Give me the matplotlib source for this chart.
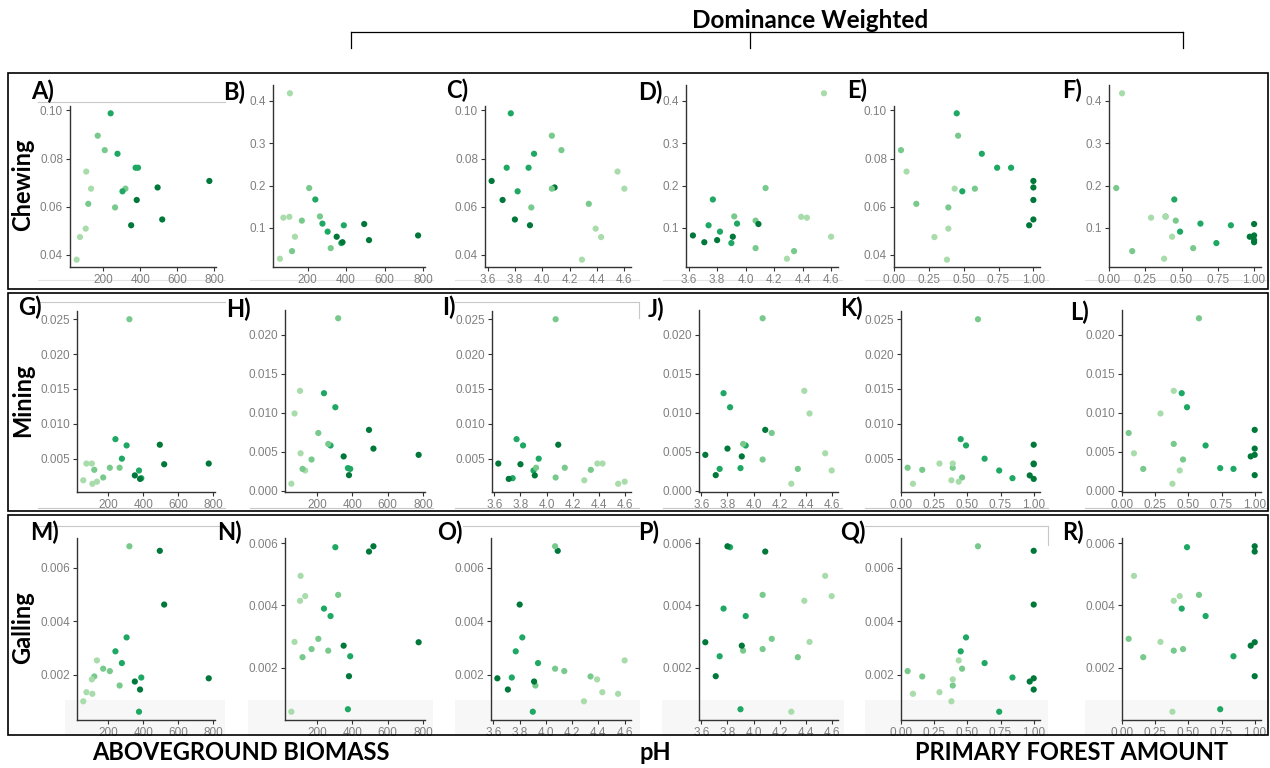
import matplotlib
matplotlib.use("Agg")
import matplotlib.pyplot as plt
from matplotlib.patches import Rectangle
from matplotlib.lines import Line2D

# 20 sites, same order in every array
biomass = [240, 170, 208, 277, 108, 375, 388, 774, 494, 134,
           320, 304, 119, 381, 264, 105, 351, 519, 74, 56]
ph = [3.77, 4.07, 4.14, 3.94, 4.55, 3.90, 3.74, 3.63, 4.09, 4.60,
      4.07, 3.82, 4.34, 3.71, 3.92, 4.39, 3.91, 3.80, 4.43, 4.29]
forest = [0.45, 0.46, 0.05, 0.63, 0.09, 0.74, 0.84, 1.00, 1.00, 0.435,
          0.58, 0.49, 0.16, 1.00, 0.39, 0.39, 0.97, 1.00, 0.29, 0.38]

chewing = [0.0988, 0.0895, 0.0835, 0.0820, 0.0746, 0.0762, 0.0762, 0.0707, 0.0680, 0.0675,
           0.0675, 0.0664, 0.0612, 0.0628, 0.0597, 0.0509, 0.0523, 0.0547, 0.0474, 0.0380]
chewing_dw = [0.167, 0.117, 0.194, 0.110, 0.418, 0.064, 0.106, 0.082, 0.109, 0.079,
              0.052, 0.091, 0.045, 0.066, 0.127, 0.126, 0.079, 0.071, 0.124, 0.027]
mining = [0.0078, 0.0023, 0.0037, 0.0050, 0.0014, 0.0033, 0.0022, 0.0043, 0.0070, 0.0017,
          0.0250, 0.0069, 0.0034, 0.0021, 0.0037, 0.0043, 0.0026, 0.0042, 0.0043, 0.0019]
mining_dw = [0.0125, 0.0040, 0.0074, 0.0058, 0.0048, 0.0029, 0.0028, 0.0046, 0.0078, 0.0026,
             0.0221, 0.0107, 0.0028, 0.0020, 0.0060, 0.0128, 0.0044, 0.0054, 0.0099, 0.0009]
galling = [0.00287, 0.00222, 0.00213, 0.00243, 0.00128, 0.00061, 0.00189, 0.00186, 0.00663, 0.00253,
           0.00680, 0.00339, 0.00193, 0.00144, 0.00159, 0.00182, 0.00174, 0.00462, 0.00134, 0.00100]
galling_dw = [0.00390, 0.00260, 0.00293, 0.00366, 0.00495, 0.00067, 0.00237, 0.00282, 0.00573, 0.00430,
              0.00434, 0.00587, 0.00234, 0.00173, 0.00255, 0.00415, 0.00271, 0.00590, 0.00283, 0.00059]

# colour class of each site (0 = lightest ... 3 = darkest)
group = [2, 1, 1, 2, 0, 2, 2, 3, 3, 0, 1, 2, 1, 3, 1, 0, 3, 3, 0, 0]
palette = ['#a8dcab', '#78c98c', '#1ea863', '#00783a']

row_names = ['Chewing', 'Mining', 'Galling']
x_names = ['ABOVEGROUND BIOMASS', 'pH', 'PRIMARY FOREST AMOUNT']
letters = 'ABCDEFGHIJKLMNOPQR'

x_ticks = [([200, 400, 600, 800], '{:.0f}'),
           ([3.6, 3.8, 4.0, 4.2, 4.4, 4.6], '{:.1f}'),
           ([0, 0.25, 0.5, 0.75, 1.0], '{:.2f}')]
y_ticks = [[([0.04, 0.06, 0.08, 0.10], '{:.2f}'), ([0.1, 0.2, 0.3, 0.4], '{:.1f}')],
           [([0.005, 0.010, 0.015, 0.020, 0.025], '{:.3f}'), ([0, 0.005, 0.010, 0.015, 0.020], '{:.3f}')],
           [([0.002, 0.004, 0.006], '{:.3f}'), ([0.002, 0.004, 0.006], '{:.3f}')]]

W, H = 1270, 768
fig = plt.figure(figsize=(W / 100, H / 100), dpi=100)
LB = ['Lato', 'DejaVu Sans']


def fx(x):
    return x / W


def fy(y):
    return 1 - y / H


def fig_line(x0, y0, x1, y1, color='black', lw=1.0, z=5):
    fig.add_artist(Line2D([fx(x0), fx(x1)], [fy(y0), fy(y1)], transform=fig.transFigure,
                          color=color, lw=lw, zorder=z))


def fig_rect(x0, y0, x1, y1, z, **kw):
    fig.add_artist(Rectangle((fx(x0), fy(y1)), fx(x1) - fx(x0), fy(y0) - fy(y1),
                             transform=fig.transFigure, zorder=z, **kw))


# pasted-image leftovers: faint bands and lines
for x0, x1 in [(65, 225), (248, 433), (455, 640), (662, 844), (865, 1048), (1085, 1268)]:
    fig_rect(x0, 700, x1, 735, -1, fc='#f7f7f7', ec='none')
for x0, x1 in [(38, 225), (250, 433), (455, 639), (663, 842), (865, 1048), (1085, 1268)]:
    fig_line(x0, 280, x1, 280, color='#e4e4e4', lw=0.8, z=-1)
    fig_line(x0, 508, x1, 508, color='#c8c8c8', lw=0.8, z=-1)
for x0, x1, y in [(38, 225, 102), (40, 225, 302), (455, 639, 302),
                  (38, 225, 526), (463, 639, 526), (865, 1048, 526)]:
    fig_line(x0, y, x1, y, color='#c8c8c8', lw=0.8, z=-1)
fig_line(639, 302, 639, 318, color='#c8c8c8', lw=0.8, z=-1)
fig_line(1048, 526, 1048, 545, color='#c8c8c8', lw=0.8, z=-1)

# row frames
for top, bot in [(73, 289), (293, 511), (515, 735)]:
    fig_rect(8, top, 1268, bot, 5, fill=False, ec='black', lw=1.2)

# panel boxes in pixels: (left, top, right, bottom)
lefts = [[70, 273, 485, 686, 894, 1109],
         [77, 285, 492, 699, 901, 1122],
         [77, 285, 491, 699, 901, 1122]]
rights = [[216, 425, 631, 838, 1040, 1261],
          [215, 425, 631, 838, 1040, 1261],
          [215, 425, 631, 838, 1040, 1261]]
tops = [[106, 85, 106, 85, 106, 85],
        [311, 310, 311, 310, 311, 310],
        [538, 538, 538, 538, 538, 538]]
bottoms = [267, 492, 720]
letter_pos = [[(31, 91), (223, 92), (446, 90), (638, 92), (847, 90), (1062, 90)],
              [(18, 307), (226, 309), (442, 307), (648, 309), (840, 308), (1070, 312)],
              [(30, 532), (217, 532), (437, 532), (638, 532), (840, 532), (1062, 532)]]

xs = [biomass, ph, forest]
ys = [[chewing, chewing_dw], [mining, mining_dw], [galling, galling_dw]]
colors = [palette[g] for g in group]

k = 0
for r in range(3):
    for c in range(6):
        xi, kind = c // 2, c % 2
        l, t, rr, b = lefts[r][c], tops[r][c], rights[r][c], bottoms[r]
        ax = fig.add_axes([fx(l), fy(b), fx(rr) - fx(l), fy(t) - fy(b)])
        ax.set_facecolor('none')
        ax.scatter(xs[xi], ys[r][kind], s=20, c=colors, linewidths=0, zorder=3)
        ax.margins(0.05)
        for side in ['top', 'right']:
            ax.spines[side].set_visible(False)
        for side in ['left', 'bottom']:
            ax.spines[side].set_color('#333333')
            ax.spines[side].set_linewidth(1.0)
        tv, fmt = x_ticks[xi]
        ax.set_xticks(tv)
        ax.set_xticklabels([fmt.format(v) for v in tv])
        tv, fmt = y_ticks[r][kind]
        ax.set_yticks(tv)
        ax.set_yticklabels([fmt.format(v) for v in tv])
        ax.tick_params(length=3, width=0.8, color='#333333', labelcolor='#808080',
                       labelsize=8.5, pad=2)
        for lab in ax.get_xticklabels() + ax.get_yticklabels():
            lab.set_family(['Liberation Sans', 'DejaVu Sans'])
        lx, ly = letter_pos[r][c]
        fig.text(fx(lx), fy(ly), letters[k] + ')', fontsize=17, fontweight='bold',
                 family=LB, ha='left', va='center', zorder=6)
        k += 1

# row labels
for name, yc in zip(row_names, [185, 400, 628]):
    fig.text(fx(23), fy(yc), name, rotation=90, fontsize=17, fontweight='bold',
             family=LB, ha='center', va='center', zorder=6)

# bottom labels
for name, xc in zip(x_names, [241, 655, 1072]):
    fig.text(fx(xc), fy(753), name, fontsize=17, fontweight='bold',
             family=LB, ha='center', va='center')

# top bracket
fig.text(fx(810), fy(20), 'Dominance Weighted', fontsize=17.5, fontweight='bold',
         family=LB, ha='center', va='center')
fig_line(351, 32, 1183, 32, lw=0.9)
for x in [351, 750, 1183]:
    fig_line(x, 32, x, 48, lw=0.9)

fig.savefig('out.png', dpi=100)
